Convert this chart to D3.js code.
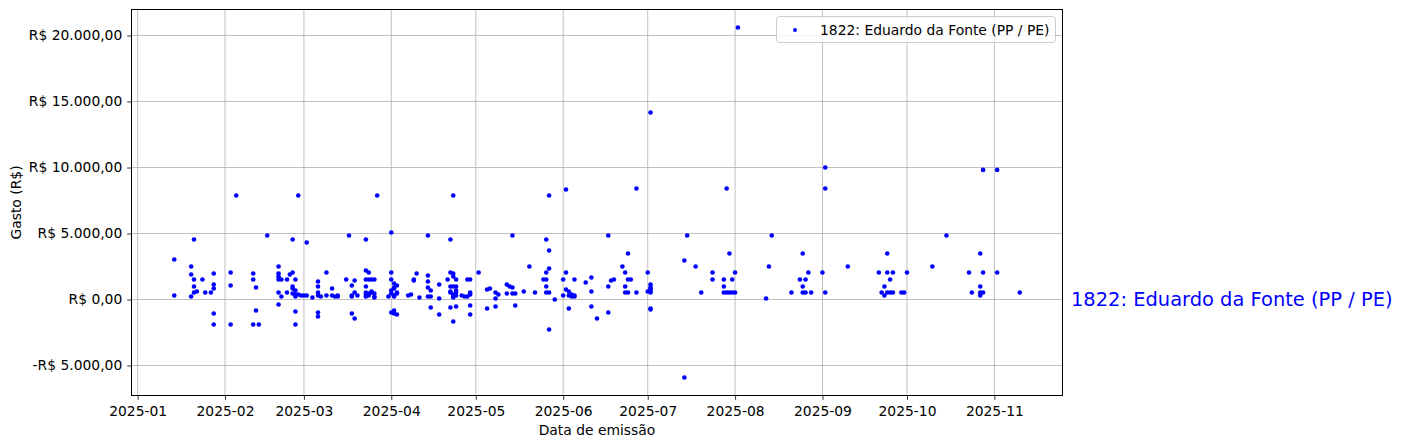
<!DOCTYPE html>
<html>
<head>
<meta charset="utf-8">
<script src="https://cdn.jsdelivr.net/npm/d3@7"></script>
<style>
  html, body { margin: 0; padding: 0; background: #ffffff; }
  svg { display: block; font-family: "DejaVu Sans", sans-serif; }
</style>
</head>
<body>
<svg id="chart" width="1402" height="448"></svg>
<script>
// ---------------- DATA ----------------
const seriesName = "1822: Eduardo da Fonte (PP / PE)";
const xLabel = "Data de emissão";
const yLabel = "Gasto (R$)";
const xTickDates = ["2025-01-01","2025-02-01","2025-03-01","2025-04-01","2025-05-01","2025-06-01",
                    "2025-07-01","2025-08-01","2025-09-01","2025-10-01","2025-11-01"];
const yTickValues = [-5000, 0, 5000, 10000, 15000, 20000];

const dates = [
  "2025-01-14","2025-01-14","2025-01-20","2025-01-20","2025-01-20","2025-01-21","2025-01-21","2025-01-21","2025-01-21","2025-01-22",
  "2025-01-24","2025-01-25","2025-01-28","2025-01-28","2025-01-28","2025-01-27","2025-01-28","2025-01-28","2025-02-03","2025-02-03",
  "2025-02-03","2025-02-05","2025-02-11","2025-02-11","2025-02-11","2025-02-12","2025-02-12","2025-02-13","2025-02-16","2025-02-20",
  "2025-02-20","2025-02-20","2025-02-20","2025-02-21","2025-02-20","2025-02-20","2025-02-21","2025-02-25","2025-02-25","2025-02-24",
  "2025-02-23","2025-02-26","2025-02-25","2025-02-25","2025-02-26","2025-02-23","2025-02-25","2025-02-26","2025-02-26","2025-02-26",
  "2025-02-26","2025-02-27","2025-02-27","2025-02-28","2025-03-01","2025-03-02","2025-03-02","2025-03-04","2025-03-06","2025-03-06",
  "2025-03-06","2025-03-06","2025-03-06","2025-03-06","2025-03-07","2025-03-09","2025-03-09",
  "2025-03-11","2025-03-11","2025-03-12","2025-03-13","2025-03-13","2025-03-16","2025-03-17","2025-03-18","2025-03-18","2025-03-18",
  "2025-03-18","2025-03-19","2025-03-19","2025-03-19","2025-03-20","2025-03-23","2025-03-23","2025-03-24","2025-03-23","2025-03-24",
  "2025-03-25","2025-03-26","2025-03-23","2025-03-23","2025-03-23","2025-03-24","2025-03-25","2025-03-25","2025-03-26","2025-03-26",
  "2025-03-26","2025-03-23","2025-03-24","2025-03-27","2025-03-31","2025-04-01","2025-04-01","2025-04-01",
  "2025-04-02","2025-04-03","2025-04-02","2025-04-02","2025-04-01","2025-04-01","2025-04-02","2025-04-02","2025-04-03","2025-04-03",
  "2025-04-01","2025-04-02","2025-04-02","2025-04-03",
  "2025-04-07","2025-04-08","2025-04-09","2025-04-09","2025-04-10","2025-04-11","2025-04-14","2025-04-14","2025-04-14","2025-04-14",
  "2025-04-14","2025-04-15","2025-04-15","2025-04-15","2025-04-18","2025-04-18","2025-04-18","2025-04-21","2025-04-22","2025-04-22",
  "2025-04-22","2025-04-22","2025-04-23","2025-04-23","2025-04-23","2025-04-23","2025-04-23","2025-04-24","2025-04-24","2025-04-24",
  "2025-04-22","2025-04-22","2025-04-23","2025-04-23","2025-04-24","2025-04-24","2025-04-24","2025-04-23",
  "2025-04-26","2025-04-27","2025-04-28","2025-04-28","2025-04-29","2025-04-29","2025-04-29","2025-04-29","2025-04-29","2025-05-02",
  "2025-05-05","2025-05-05","2025-05-06","2025-05-08","2025-05-08","2025-05-09","2025-05-08","2025-05-12","2025-05-13","2025-05-14",
  "2025-05-12","2025-05-14","2025-05-15","2025-05-15","2025-05-14",
  "2025-05-18","2025-05-20","2025-05-22","2025-05-25","2025-05-26","2025-05-26","2025-05-26","2025-05-26","2025-05-26","2025-05-27",
  "2025-05-27","2025-05-27","2025-05-27","2025-05-27","2025-05-29","2025-06-01","2025-06-01","2025-06-02","2025-06-02","2025-06-02",
  "2025-06-03","2025-06-03","2025-06-04","2025-06-05","2025-06-05","2025-06-04","2025-06-03","2025-06-05","2025-06-09","2025-06-11",
  "2025-06-11","2025-06-11","2025-06-13","2025-06-17","2025-06-17","2025-06-17","2025-06-18","2025-06-19","2025-06-22","2025-06-23",
  "2025-06-23","2025-06-23","2025-06-24","2025-06-24","2025-06-24","2025-06-25","2025-06-27","2025-06-27","2025-07-01","2025-07-02",
  "2025-07-02","2025-07-02","2025-07-02","2025-07-02","2025-07-01","2025-07-02","2025-07-02","2025-07-02",
  "2025-07-14","2025-07-14","2025-07-15","2025-07-18","2025-07-20","2025-07-24","2025-07-24","2025-07-28","2025-07-28","2025-07-28",
  "2025-07-29","2025-07-29","2025-07-30","2025-07-30","2025-07-31","2025-07-31","2025-08-01","2025-08-01","2025-08-02","2025-08-12",
  "2025-08-13","2025-08-14","2025-08-21","2025-08-24","2025-08-25","2025-08-25","2025-08-25","2025-08-26","2025-08-26","2025-08-27",
  "2025-08-28","2025-09-01","2025-09-02","2025-09-02","2025-09-02","2025-09-10",
  "2025-09-21","2025-09-22","2025-09-23","2025-09-23","2025-09-24","2025-09-24","2025-09-24","2025-09-25","2025-09-25","2025-09-26",
  "2025-09-26","2025-09-29","2025-09-30","2025-10-01","2025-10-10","2025-10-15","2025-10-23","2025-10-24","2025-10-27","2025-10-27",
  "2025-10-27","2025-10-27","2025-10-28","2025-10-28","2025-10-28","2025-11-02","2025-11-02","2025-11-10"
];
const gastos = [
  3030, 303, 1894, 2500, 227, 4545, 1515, 985, 530, 606,
  1515, 530, 1970, 1136, 833, 530, -1061, -1894, 2045, 1061,
  -1894, 7879, 1970, 1515, -1894, 909, -833, -1894, 4848, 2500,
  1970, 1742, 1515, 1515, 530, -379, 227, 4545, 2045, 1894,
  1515, 1515, 985, 833, 682, 530, 455, 379, 227, -909,
  -1894, 7879, 379, 303, 303, 4318, 303, 152, 1364, 985,
  530, 303, -985, -1288, 227, 303, 2045,
  833, 303, 227, 227, 303, 1515, 4848, 227, 1061, 303,
  -1061, 530, 1439, -1439, 303, 4545, 2197, 2045, 1515, 1515,
  1515, 1515, 985, 530, 379, 455, 530, 606, 455, 227,
  152, 227, 303, 7879, 227, 2045, 5076, 1515,
  1212, 1061, 909, 833, 682, 455, 303, 227, 455, 530,
  -985, -833, -1061, -1136,
  303, 379, 1515, 1439, 1970, 152, 1818, 1364, 227, 4848,
  909, 682, 227, -606, 1136, 76, -1136, 1515, 4545, 2045,
  985, -606, 985, 1970, 1742, -1667, 7879, 985, -530, 1515,
  530, 606, 227, 379, 530, 682, 303, 152,
  303, 227, 227, 1515, 1515, 530, 379, -455, -1136, 2045,
  758, -682, 833, 530, -530, 379, 76, 1136, 985, 909,
  455, 455, 455, -455, 4848,
  606, 2500, 530, 1515, 4545, 2045, 1515, 985, 530, 2348,
  -2273, 7879, 3712, 530, 0, 1515, 303, 8333, 2045, 758,
  606, 303, 227, 303, 227, 379, -682, 1515, 1288, 1667,
  606, -530, -1439, 4848, 985, -985, 1439, 1515, 2500, 2045,
  985, 530, 3485, 1515, 530, 1515, 8409, 530, 2045, 14167,
  1136, 909, 833, 682, 606, 530, -758, -682,
  2955, -5909, 4848, 2500, 530, 2045, 1515, 1515, 985, 530,
  8409, 530, 3485, 530, 1515, 530, 2045, 530, 20606, 76,
  2500, 4848, 530, 1515, 530, 3485, 985, 1515, 530, 2045,
  530, 2045, 10000, 8409, 530, 2500,
  2045, 530, 985, 303, 3485, 2045, 530, 1515, 530, 530,
  2045, 530, 530, 2045, 2500, 4848, 2045, 530, 530, 3485,
  985, 303, 2045, 530, 9818, 9818, 2045, 530
];

// ---------------- LAYOUT ----------------
const W = 1402, H = 448;
const margin = { left: 132, top: 10, right: 1402 - 1062, bottom: 448 - 395 };
const pw = W - margin.left - margin.right;
const ph = H - margin.top - margin.bottom;
const parse = d3.utcParse("%Y-%m-%d");
const FS = "13.89px";

const points = dates.map((d, i) => ({ date: parse(d), value: gastos[i] }));

const svg = d3.select("#chart");
const g = svg.append("g").attr("transform", `translate(${margin.left},${margin.top})`);

// matplotlib-like 5% margins
const xExt = d3.extent(points, d => +d.date);
const xPad = (xExt[1] - xExt[0]) * 0.05;
const x = d3.scaleUtc().domain([new Date(xExt[0] - xPad), new Date(xExt[1] + xPad)]).range([0, pw]);
const yExt = d3.extent(points, d => d.value);
const yPad = (yExt[1] - yExt[0]) * 0.05;
const y = d3.scaleLinear().domain([yExt[0] - yPad, yExt[1] + yPad]).range([ph, 0]);

const fmtNum = v => {
  const s = Math.abs(v).toFixed(2).split(".");
  const intPart = s[0].replace(/\B(?=(\d{3})+(?!\d))/g, ".");
  return (v < 0 ? "-" : "") + "R$ " + intPart + "," + s[1];
};

const xTicks = xTickDates.map(parse);

// grid
g.append("g").selectAll("line").data(xTicks).join("line")
  .attr("x1", d => x(d)).attr("x2", d => x(d)).attr("y1", 0).attr("y2", ph)
  .attr("stroke", "#b0b0b0").attr("stroke-width", 0.8);
g.append("g").selectAll("line").data(yTickValues).join("line")
  .attr("x1", 0).attr("x2", pw).attr("y1", d => y(d)).attr("y2", d => y(d))
  .attr("stroke", "#b0b0b0").attr("stroke-width", 0.8);

// axes
const xAxis = d3.axisBottom(x).tickValues(xTicks).tickFormat(d3.utcFormat("%Y-%m")).tickSize(4.86).tickPadding(4.86);
const yAxis = d3.axisLeft(y).tickValues(yTickValues).tickFormat(fmtNum).tickSize(4.86).tickPadding(4.86);

const gx = g.append("g").attr("transform", `translate(0,${ph})`).call(xAxis);
const gy = g.append("g").call(yAxis);
[gx, gy].forEach(a => {
  a.select(".domain").remove();
  a.selectAll("text").attr("font-family", "DejaVu Sans").attr("font-size", FS).attr("fill", "#000");
  a.selectAll("line").attr("stroke", "#000").attr("stroke-width", 0.8);
});
gx.selectAll("text").attr("dy", "0.8em");

// frame
g.append("rect").attr("x", -0.5).attr("y", -0.5).attr("width", pw + 1).attr("height", ph + 1)
  .attr("fill", "none").attr("stroke", "#000").attr("stroke-width", 1);

// points
g.append("g").selectAll("circle").data(points).join("circle")
  .attr("cx", d => x(d.date)).attr("cy", d => y(d.value)).attr("r", 2.3)
  .attr("fill", "#0000ff");

// labels
svg.append("text").attr("x", margin.left + pw / 2).attr("y", 435)
  .attr("text-anchor", "middle").attr("font-size", FS).text(xLabel);
svg.append("text").attr("transform", `translate(21,${margin.top + ph / 2}) rotate(-90)`)
  .attr("text-anchor", "middle").attr("font-size", FS).text(yLabel);

// right-side label at y=0
svg.append("text").attr("x", margin.left + pw + 9).attr("y", margin.top + y(0))
  .attr("dominant-baseline", "central").attr("font-size", "19.44px").attr("fill", "#0000ff")
  .text(seriesName);

// legend
const lg = svg.append("g");
lg.append("rect").attr("x", 776.5).attr("y", 16.5).attr("width", 279).attr("height", 26).attr("rx", 3)
  .attr("fill", "#fff").attr("fill-opacity", 0.8).attr("stroke", "#cccccc").attr("stroke-width", 1);
lg.append("circle").attr("cx", 795).attr("cy", 30).attr("r", 2).attr("fill", "#0000ff");
lg.append("text").attr("x", 820).attr("y", 30).attr("dominant-baseline", "central")
  .attr("font-size", FS).text(seriesName);
</script>
</body>
</html>
